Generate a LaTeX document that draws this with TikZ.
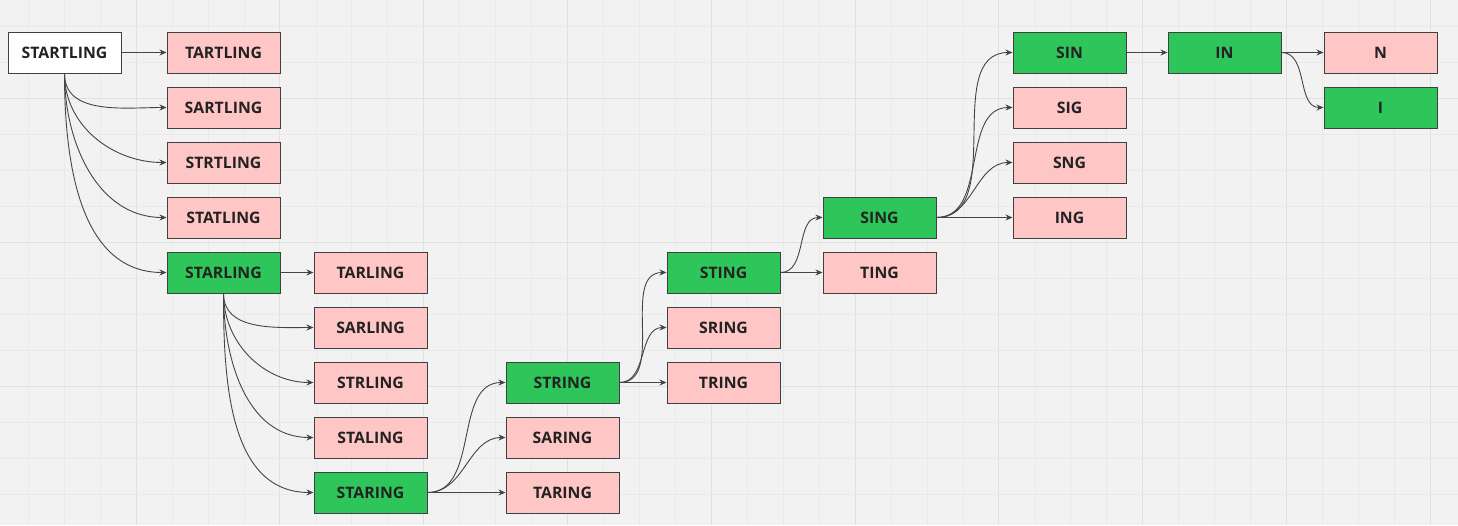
\documentclass[tikz,border=0pt]{standalone}
\usepackage{fontspec}
\setmainfont{Open Sans}
\usetikzlibrary{arrows.meta}

\definecolor{canvas}{HTML}{F2F2F2}
\definecolor{gridminor}{HTML}{E9E9E9}
\definecolor{gridmajor}{HTML}{E0E0E0}
\definecolor{reject}{HTML}{FFC6C6}
\definecolor{keep}{HTML}{2EC65A}
\definecolor{edge}{HTML}{444444}
\definecolor{ink}{HTML}{222222}

\tikzset{
  word/.style={draw=black!75, line width=1pt, rectangle, minimum width=113pt,
    minimum height=41pt, inner sep=0pt, font=\fontsize{15.8}{18}\selectfont\bfseries, text=ink},
  rejectword/.style={word, fill=reject},
  keepword/.style={word, fill=keep},
  link/.style={draw=edge, line width=0.9pt, -{Stealth[length=7pt,width=6pt]}}
}

\begin{document}
\begin{tikzpicture}[x=1pt,y=-1pt]
\useasboundingbox (0,0) rectangle (1458,525);
\fill[canvas] (0,0) rectangle (1458,525);
% background grid
\foreach \k in {0,...,39} {
  \pgfmathsetmacro{\gx}{28.3+35.95*\k}
  \pgfmathtruncatemacro{\gm}{mod(\k,4)}
  \ifnum\gm=3 \draw[gridmajor, line width=1pt] (\gx,0) -- (\gx,525);
  \else \draw[gridminor, line width=0.8pt] (\gx,0) -- (\gx,525); \fi
}
\foreach \k in {0,...,13} {
  \pgfmathsetmacro{\gy}{26.3+36*\k}
  \pgfmathtruncatemacro{\gm}{mod(\k,4)}
  \ifnum\gm=2 \draw[gridmajor, line width=1pt] (0,\gy) -- (1458,\gy);
  \else \draw[gridminor, line width=0.8pt] (0,\gy) -- (1458,\gy); \fi
}

\node[word, fill=white] (startling) at (64.5,52.5) {STARTLING};

\node[rejectword] (tartling) at (223.5,52.5) {TARTLING};
\node[rejectword] (sartling) at (223.5,107.5) {SARTLING};
\node[rejectword] (strtling) at (223.5,162.5) {STRTLING};
\node[rejectword] (statling) at (223.5,217.5) {STATLING};
\node[keepword] (starling) at (223.5,272.5) {STARLING};

\node[rejectword] (tarling) at (370.5,272.5) {TARLING};
\node[rejectword] (sarling) at (370.5,327.5) {SARLING};
\node[rejectword] (strling) at (370.5,382.5) {STRLING};
\node[rejectword] (staling) at (370.5,437.5) {STALING};
\node[keepword] (staring) at (370.5,492.5) {STARING};

\node[keepword] (string) at (562.5,382.5) {STRING};
\node[rejectword] (saring) at (562.5,437.5) {SARING};
\node[rejectword] (taring) at (562.5,492.5) {TARING};

\node[keepword] (sting) at (723.5,272.5) {STING};
\node[rejectword] (sring) at (723.5,327.5) {SRING};
\node[rejectword] (tring) at (723.5,382.5) {TRING};

\node[keepword] (sing) at (879.5,217.5) {SING};
\node[rejectword] (ting) at (879.5,272.5) {TING};

\node[keepword] (sin) at (1069.5,52.5) {SIN};
\node[rejectword] (sig) at (1069.5,107.5) {SIG};
\node[rejectword] (sng) at (1069.5,162.5) {SNG};
\node[rejectword] (ing) at (1069.5,217.5) {ING};

\node[keepword] (in) at (1224.5,52.5) {IN};

\node[rejectword] (n) at (1380.5,52.5) {N};
\node[keepword] (i) at (1380.5,107.5) {I};

\path[link] (startling.east) -- (tartling.west);
\foreach \t in {sartling,strtling,statling,starling}
  \path[link] (startling.south) to[out=-90,in=180] (\t.west);

\path[link] (starling.east) -- (tarling.west);
\foreach \t in {sarling,strling,staling,staring}
  \path[link] (starling.south) to[out=-90,in=180] (\t.west);

\foreach \t in {string,saring,taring}
  \path[link] (staring.east) to[out=0,in=180] (\t.west);

\foreach \t in {sting,sring,tring}
  \path[link] (string.east) to[out=0,in=180] (\t.west);

\path[link] (sting.east) to[out=0,in=180] (sing.west);
\path[link] (sting.east) -- (ting.west);

\foreach \t in {sin,sig,sng,ing}
  \path[link] (sing.east) to[out=0,in=180] (\t.west);

\path[link] (sin.east) -- (in.west);
\path[link] (in.east) -- (n.west);
\path[link] (in.east) to[out=0,in=180] (i.west);
\end{tikzpicture}
\end{document}
